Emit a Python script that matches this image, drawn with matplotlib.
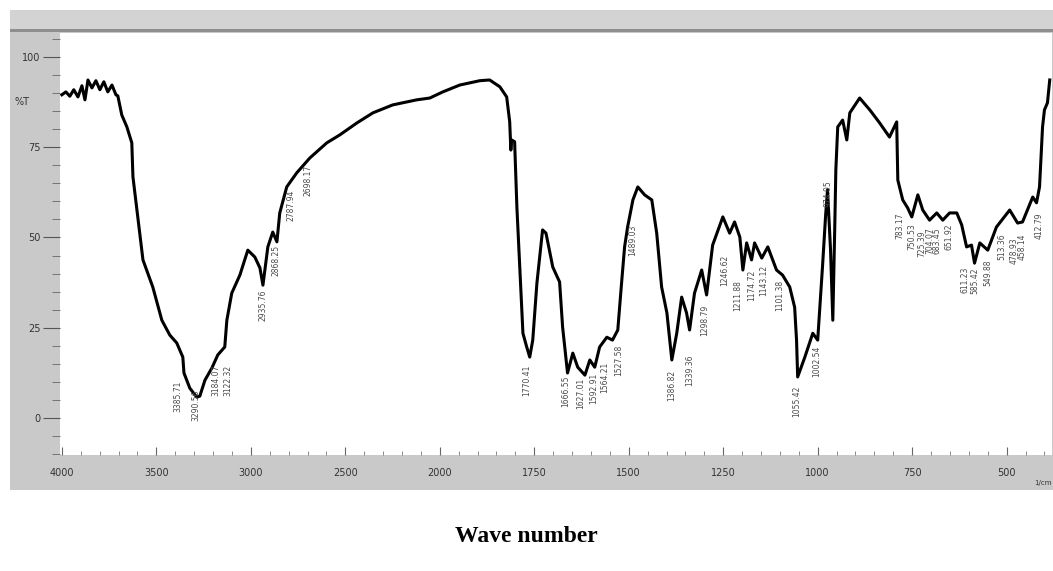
import numpy as np
import matplotlib.pyplot as plt
from matplotlib.patches import Rectangle
from matplotlib.ticker import FixedLocator, NullFormatter

# FTIR spectrum, %T vs wave number (1/cm)
wavenumber = [4000, 3979, 3958, 3937, 3915, 3894, 3878, 3862, 3841, 3820, 3799, 3778,
              3757, 3735, 3714, 3704, 3683, 3656, 3630, 3624, 3603, 3571, 3519, 3471,
              3429, 3392, 3360, 3354, 3339, 3323, 3286, 3270, 3243, 3206, 3175, 3138,
              3127, 3101, 3058, 3016, 2979, 2952, 2936, 2910, 2884, 2862, 2847, 2810,
              2757, 2688, 2598, 2529, 2439, 2354, 2249, 2122, 2053, 1992, 1947, 1894,
              1868, 1841, 1823, 1815, 1812, 1810, 1802, 1796, 1788, 1780, 1770, 1762,
              1754, 1743, 1728, 1719, 1701, 1683, 1675, 1662, 1648, 1635, 1616, 1603,
              1590, 1577, 1558, 1543, 1529, 1519, 1511, 1503, 1489, 1476, 1458, 1439,
              1426, 1413, 1399, 1386, 1373, 1360, 1347, 1339, 1326, 1307, 1294, 1278,
              1251, 1233, 1220, 1206, 1198, 1188, 1175, 1167, 1148, 1132, 1109, 1093,
              1074, 1061, 1056, 1053, 1034, 1013, 1000, 987, 979, 974, 966, 960,
              955, 952, 947, 934, 923, 915, 889, 862, 836, 810, 791, 788,
              775, 762, 751, 735, 722, 704, 685, 669, 651, 632, 619, 606,
              593, 585, 571, 550, 527, 492, 471, 458, 431, 421, 413, 405,
              400, 392, 386]
transmittance = [89.5, 90.3, 89.1, 90.9, 88.9, 92.0, 88.1, 93.6, 91.4, 93.4, 90.9, 93.1,
                 90.3, 92.2, 89.5, 89.2, 83.9, 80.6, 76.2, 66.8, 57.6, 43.8, 36.3, 27.1,
                 23.0, 20.8, 16.9, 12.5, 10.5, 8.3, 5.8, 6.1, 10.5, 13.9, 17.5, 19.7,
                 27.1, 34.6, 39.6, 46.5, 44.6, 41.6, 36.8, 47.4, 51.5, 48.8, 56.8, 64.0,
                 67.9, 72.0, 76.2, 78.4, 81.7, 84.5, 86.7, 88.1, 88.6, 90.3, 92.2, 93.4,
                 93.6, 91.7, 88.9, 82.0, 74.2, 77.0, 76.5, 58.4, 41.0, 23.5, 19.7, 16.9,
                 21.6, 37.4, 52.1, 51.2, 41.8, 37.7, 25.2, 12.5, 18.0, 14.1, 11.9, 16.1,
                 14.1, 19.7, 22.4, 21.6, 24.4, 37.4, 47.4, 52.9, 60.4, 64.0, 61.8, 60.4,
                 51.2, 36.3, 29.1, 16.1, 23.5, 33.5, 29.1, 24.4, 34.6, 41.0, 34.1, 47.9,
                 55.7, 51.2, 54.3, 50.1, 41.0, 48.5, 43.8, 48.5, 44.3, 47.4, 41.0, 39.6,
                 36.3, 30.7, 21.6, 11.4, 16.9, 23.5, 21.6, 42.4, 56.2, 63.2, 46.5, 27.1,
                 52.1, 68.7, 80.6, 82.5, 77.0, 84.5, 88.6, 85.3, 81.7, 77.8, 82.0, 65.9,
                 60.4, 58.2, 55.7, 61.8, 57.6, 54.8, 56.8, 54.8, 56.8, 56.8, 53.5, 47.4,
                 47.9, 42.9, 48.5, 46.5, 52.9, 57.6, 54.0, 54.3, 61.2, 59.6, 64.0, 80.6,
                 85.3, 87.3, 93.6]

# peak labels: wave number printed under each band, and %T where the text starts
peak_wn = [3385.71, 3290.56, 3184.07, 3122.32, 2935.76, 2868.25, 2787.94, 2698.17,
           1770.41, 1666.55, 1627.01, 1592.91, 1564.21, 1527.58, 1489.03, 1386.82,
           1339.36, 1298.79, 1246.62, 1211.88, 1174.72, 1143.12, 1101.38, 1055.42,
           1002.54, 974.05, 783.17, 750.53, 725.39, 704.07, 683.45, 651.92,
           611.23, 585.42, 549.88, 513.36, 478.93, 458.14, 412.79]
peak_T = [10.5, 7.8, 14.7, 14.7, 35.5, 47.9, 63.2, 70.1,
          14.7, 11.9, 11.1, 12.7, 15.5, 20.2, 53.5, 13.3,
          17.5, 31.3, 45.2, 38.2, 41.0, 42.4, 38.2, 9.1,
          20.2, 65.9, 56.8, 54.0, 52.1, 52.9, 52.9, 54.0,
          41.8, 41.8, 43.8, 51.2, 50.1, 51.2, 56.8]

x_ticks = [4000, 3500, 3000, 2500, 2000, 1750, 1500, 1250, 1000, 750, 500]
y_ticks = [0, 25, 50, 75, 100]


# instrument scale: 500 per division above 2000, 250 per division below
def fwd(w):
    w = np.asarray(w, dtype=float)
    return np.where(w >= 2000, (w - 2000) / 500.0, (w - 2000) / 250.0)


def inv(u):
    u = np.asarray(u, dtype=float)
    return np.where(u >= 0, 2000 + 500.0 * u, 2000 + 250.0 * u)


fig = plt.figure(figsize=(10.53, 5.71), dpi=100)

# grey instrument frame, kept behind the axes
def frame_rect(x0, y0, w, h, color):
    fig.patches.append(Rectangle((x0 / 1053, 1 - (y0 + h) / 571), w / 1053, h / 571,
                                 transform=fig.transFigure, facecolor=color,
                                 edgecolor='none', zorder=-10))

frame_rect(10, 10, 1043, 480, '#c9c9c9')
frame_rect(10, 10, 1043, 20, '#d3d3d3')
frame_rect(10, 29, 1043, 3, '#8e8e8e')

ax = fig.add_axes([60 / 1053, 1 - 455 / 571, 992 / 1053, 422 / 571], zorder=5)
ax.set_facecolor('white')
ax.set_xscale('function', functions=(fwd, inv))
ax.plot(wavenumber, transmittance, color='black', lw=2.2, solid_joinstyle='round')
ax.set_xlim(4010, 380)
ax.set_ylim(-10.2, 106.6)

for wn, t in zip(peak_wn, peak_T):
    ax.text(wn, t, f'{wn:.2f}', rotation=90, ha='center', va='top',
            fontsize=5.5, color='#4a4a4a')

for s in ax.spines.values():
    s.set_visible(False)

ax.xaxis.set_major_locator(FixedLocator(x_ticks))
ax.set_xticklabels([str(v) for v in x_ticks])
minor_x = list(range(3900, 2000, -100)) + list(range(1950, 375, -50))
ax.xaxis.set_minor_locator(FixedLocator(minor_x))
ax.xaxis.set_minor_formatter(NullFormatter())
ax.tick_params(axis='x', which='major', direction='in', length=6, color='#666666',
               labelsize=7, labelcolor='#333333', pad=9)
ax.tick_params(axis='x', which='minor', direction='in', length=3, color='#777777')

ax.yaxis.set_major_locator(FixedLocator(y_ticks))
ax.set_yticklabels([str(v) for v in y_ticks])
ax.yaxis.set_minor_locator(FixedLocator(list(range(-10, 106, 5))))
ax.tick_params(axis='y', which='major', direction='out', length=12, color='#555555',
               labelsize=7, labelcolor='#333333', pad=2)
ax.tick_params(axis='y', which='minor', direction='out', length=6, color='#666666')
ax.text(-0.038, 87.5, '%T', transform=ax.get_yaxis_transform(), ha='center',
        va='center', fontsize=7, color='#333333')
ax.text(1.0, -0.06, '1/cm', transform=ax.transAxes, ha='right', va='top',
        fontsize=5, color='#333333')

fig.text(0.5, 1 - 537 / 571, 'Wave number', ha='center', va='center',
         fontsize=17, fontweight='bold', family='Liberation Serif')

fig.savefig('out.png', dpi=100)
